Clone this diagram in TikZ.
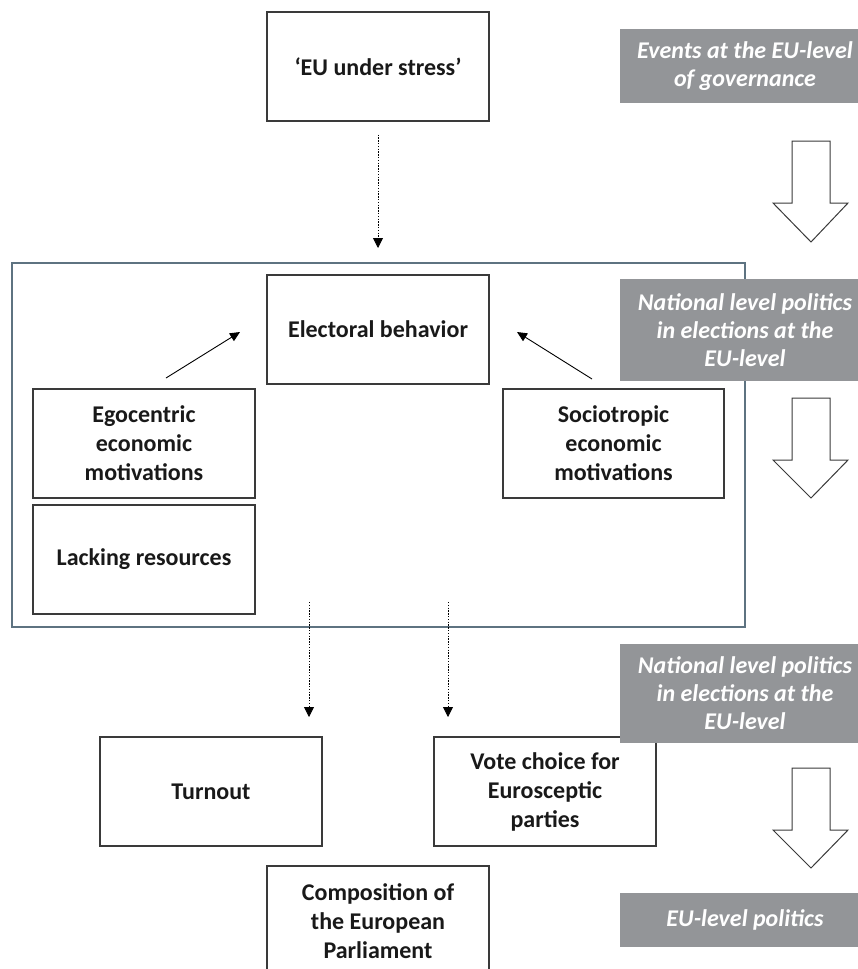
\documentclass[tikz,border=0pt]{standalone}
\usepackage{fontspec}
\setmainfont{Carlito}
\usetikzlibrary{arrows.meta}
\definecolor{boxline}{HTML}{3A3A3A}
\definecolor{contline}{HTML}{5E7381}
\definecolor{lblgray}{HTML}{939598}
\begin{document}
\begin{tikzpicture}[x=1pt,y={(0pt,-1pt)},
  txt/.style={font=\fontsize{24}{29}\selectfont\bfseries},
  box/.style={draw=boxline,line width=1.2pt,fill=white,minimum width=222pt,minimum height=109pt,inner sep=0pt,align=center,txt,text=black!90},
  lbl/.style={fill=lblgray,minimum width=250pt,inner sep=0pt,align=center,text=white,font=\fontsize{24}{28}\selectfont\bfseries\itshape},
  dotarrow/.style={draw=black,line width=0.8pt,dash pattern=on 1.4pt off 1.4pt,-{Triangle[width=10pt,length=10pt]}},
  solarrow/.style={draw=black,line width=0.9pt,-{Triangle[width=9pt,length=10pt]}},
  bigarrow/.style={draw=boxline,line width=1pt,fill=white}]
\useasboundingbox (0,0) rectangle (858,969);
\clip (0,0) rectangle (858,969);
% container
\node[draw=contline,line width=2pt,minimum width=733pt,minimum height=364pt,inner sep=0pt] (cont) at (378.5,445) {};
% boxes
\node[box] (eus) at (378,66.5) {‘EU under stress’};
\node[box] (eb) at (378,329.5) {Electoral behavior};
\node[box] (ego) at (144,443.5) {Egocentric\\economic\\motivations};
\node[box] (lack) at (144,559.5) {Lacking resources};
\node[box,minimum width=221pt] (socio) at (613.5,443.5) {Sociotropic\\economic\\motivations};
\node[box] (turn) at (211,791.5) {Turnout};
\node[box] (vote) at (545,791.5) {Vote choice for\\Eurosceptic\\parties};
\node[box,minimum height=110pt] (comp) at (378,921) {Composition of\\the European\\Parliament};
% connectors
\draw[dotarrow,shorten <=13pt,shorten >=14pt] (eus.south) -- (eus.south |- cont.north);
\coordinate (e1) at (166,378); \coordinate (e2) at (240,332);
\draw[solarrow] (e1) -- (e2);
\coordinate (s1) at (592,379); \coordinate (s2) at (517,332);
\draw[solarrow] (s1) -- (s2);
\coordinate (t1) at (309,602); \coordinate (t2) at (309,717);
\draw[dotarrow] (t1) -- (t2);
\coordinate (v1) at (448,602); \coordinate (v2) at (448,717);
\draw[dotarrow] (v1) -- (v2);
% gray labels
\node[lbl,minimum height=74pt] (g1) at (745,66) {Events at the EU-level\\of governance};
\node[lbl,minimum height=102pt] (g2) at (745,330) {National level politics\\in elections at the\\EU-level};
\node[lbl,minimum height=99pt] (g3) at (745,693.5) {National level politics\\in elections at the\\EU-level};
\node[lbl,minimum height=54pt] (g4) at (745,920) {EU-level politics};
% big hollow arrows
\draw[bigarrow] (792,141) -- (830,141) -- (830,203) -- (848,203) -- (811,242) -- (773,203) -- (792,203) -- cycle;
\draw[bigarrow] (792,398) -- (830,398) -- (830,460) -- (848,460) -- (811,498) -- (773,460) -- (792,460) -- cycle;
\draw[bigarrow] (792,768) -- (830,768) -- (830,830) -- (848,830) -- (811,868) -- (773,830) -- (792,830) -- cycle;
\end{tikzpicture}
\end{document}
